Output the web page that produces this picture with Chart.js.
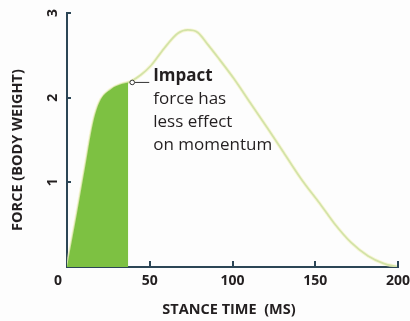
<!DOCTYPE html>
<html>
<head>
<meta charset="utf-8">
<script src="https://cdn.jsdelivr.net/npm/chart.js@4"></script>
<style>
  html, body { margin: 0; padding: 0; background: #fdfdfd; }
  #wrap { width: 410px; height: 321px; }
</style>
</head>
<body>
<div id="wrap"><canvas id="forceChart"></canvas></div>
<script>
// stance time (ms) and ground reaction force (body weights)
const timeMs = [0, 6, 11.5, 14.5, 17, 20.5, 26.6, 33, 37, 39.3, 44.7, 50.8, 58.6, 67, 73, 79, 85, 91, 101, 111, 121.5, 131, 141.5, 153.5, 161.3, 171.6, 181.9, 191.5, 200];
const force = [0, 0.63, 1.24, 1.58, 1.8, 1.98, 2.1, 2.16, 2.18, 2.2, 2.27, 2.38, 2.58, 2.76, 2.8, 2.77, 2.63, 2.48, 2.22, 1.93, 1.63, 1.35, 1.04, 0.73, 0.52, 0.29, 0.13, 0.04, 0];
const impactTime = 37;
const xTicks = [0, 50, 100, 150, 200];
const yTicks = [1, 2, 3];
const noteLines = ['Impact', 'force has', 'less effect', 'on momentum'];

const AXIS = '#2c4656';
const TEXT = '#231f20';
const FONT = '"Open Sans", "DejaVu Sans", sans-serif';

const curve = timeMs.map((t, i) => ({ x: t, y: force[i] }));
const impactPart = curve.filter((p) => p.x <= impactTime);

const extras = {
  id: 'extras',
  afterDraw(chart) {
    const { ctx, chartArea } = chart;
    const xs = chart.scales.x;
    const ys = chart.scales.y;
    ctx.save();

    // tick marks, drawn inside the axes
    ctx.strokeStyle = AXIS;
    ctx.lineWidth = 2;
    xTicks.slice(1).forEach((v) => {
      const px = Math.round(xs.getPixelForValue(v));
      ctx.beginPath();
      ctx.moveTo(px, chartArea.bottom);
      ctx.lineTo(px, chartArea.bottom - 6);
      ctx.stroke();
    });
    yTicks.forEach((v) => {
      const py = Math.round(ys.getPixelForValue(v));
      ctx.beginPath();
      ctx.moveTo(chartArea.left, py);
      ctx.lineTo(chartArea.left + 4, py);
      ctx.stroke();
    });

    // tick labels
    ctx.fillStyle = TEXT;
    ctx.font = `bold 14px ${FONT}`;
    ctx.textAlign = 'center';
    ctx.textBaseline = 'middle';
    xTicks.forEach((v) => {
      const px = xs.getPixelForValue(v) - (v === 0 ? 9 : 0);
      ctx.fillText(String(v), px, chartArea.bottom + 14);
    });
    yTicks.forEach((v) => {
      ctx.save();
      ctx.translate(chartArea.left - 14, ys.getPixelForValue(v));
      ctx.rotate(-Math.PI / 2);
      ctx.fillText(String(v), 0, 0);
      ctx.restore();
    });

    // axis titles
    ctx.font = `bold 14.5px ${FONT}`;
    ctx.fillText('STANCE TIME  (MS)', 229, 310);
    ctx.save();
    ctx.translate(18, 150);
    ctx.rotate(-Math.PI / 2);
    ctx.fillText('FORCE (BODY WEIGHT)', 0, 0);
    ctx.restore();

    // impact annotation
    const last = impactPart[impactPart.length - 1];
    const ax = xs.getPixelForValue(last.x) + 4;
    const ay = ys.getPixelForValue(last.y);
    ctx.strokeStyle = '#333';
    ctx.lineWidth = 1;
    ctx.beginPath();
    ctx.moveTo(ax + 2.5, ay);
    ctx.lineTo(ax + 17, ay);
    ctx.stroke();
    ctx.beginPath();
    ctx.arc(ax, ay, 2.3, 0, Math.PI * 2);
    ctx.fillStyle = '#fff';
    ctx.fill();
    ctx.stroke();

    ctx.fillStyle = TEXT;
    ctx.textAlign = 'left';
    noteLines.forEach((line, i) => {
      ctx.font = (i === 0 ? 'bold ' : '') + `17px ${FONT}`;
      ctx.fillText(line, ax + 21, ay - 6 + i * 23);
    });
    ctx.restore();
  },
};

new Chart(document.getElementById('forceChart'), {
  type: 'line',
  data: {
    datasets: [
      {
        data: impactPart,
        borderWidth: 0,
        pointRadius: 0,
        backgroundColor: '#7dc142',
        fill: 'origin',
        cubicInterpolationMode: 'monotone',
      },
      {
        data: curve,
        borderColor: 'rgba(246, 242, 190, 0.6)',
        borderWidth: 3.5,
        pointRadius: 0,
        fill: false,
        cubicInterpolationMode: 'monotone',
      },
      {
        data: curve,
        borderColor: '#9ccd86',
        borderWidth: 1.8,
        pointRadius: 0,
        fill: false,
        cubicInterpolationMode: 'monotone',
      },
    ],
  },
  options: {
    responsive: true,
    maintainAspectRatio: false,
    animation: false,
    layout: { padding: { left: 59, top: 13, right: 12, bottom: 46 } },
    plugins: { legend: { display: false }, tooltip: { enabled: false } },
    scales: {
      x: {
        type: 'linear',
        min: 0,
        max: 200,
        ticks: { display: false, stepSize: 50 },
        grid: { display: false },
        border: { display: true, color: AXIS, width: 2 },
      },
      y: {
        min: 0,
        max: 3,
        ticks: { display: false, stepSize: 1 },
        grid: { display: false },
        border: { display: true, color: AXIS, width: 2 },
      },
    },
  },
  plugins: [extras],
});
</script>
</body>
</html>
